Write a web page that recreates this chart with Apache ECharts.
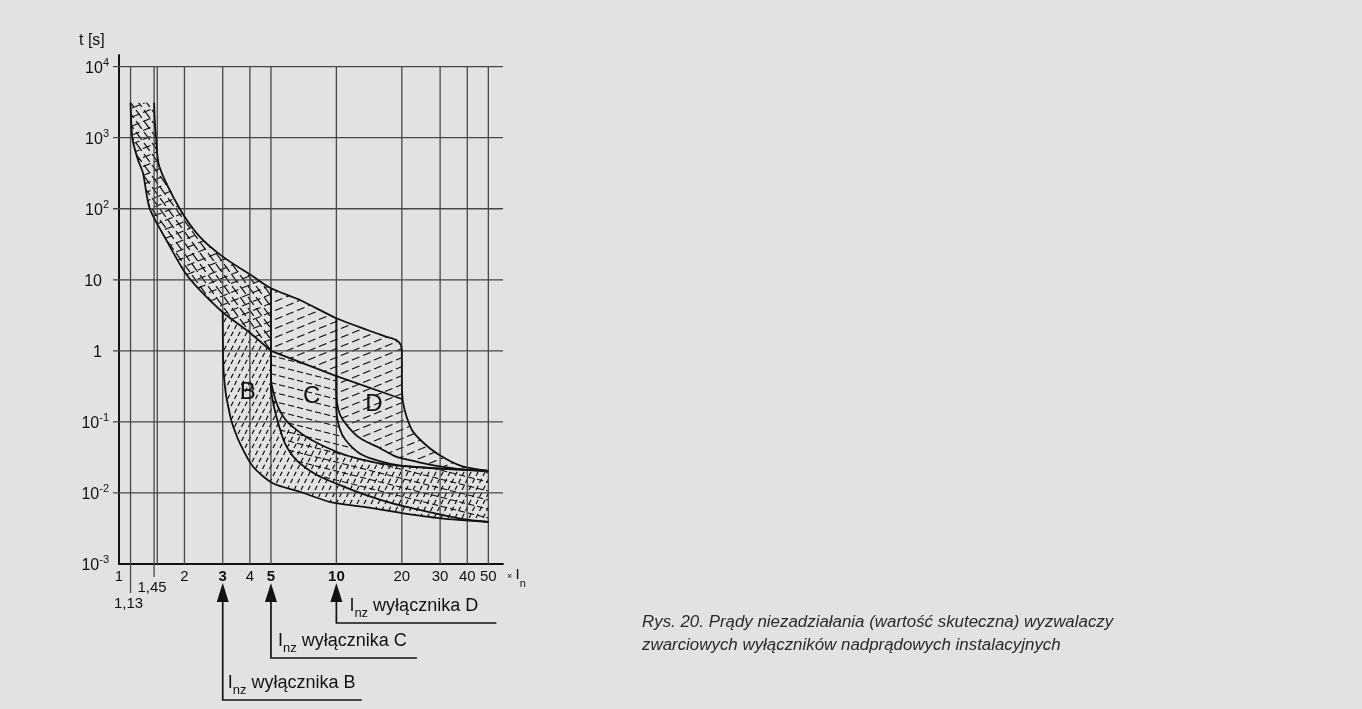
<!DOCTYPE html>
<html>
<head>
<meta charset="utf-8">
<title>Rys. 20</title>
<script src="https://cdn.jsdelivr.net/npm/echarts@6/dist/echarts.min.js"></script>
<style>
  html, body { margin: 0; padding: 0; background: #e1e2e1; }
  #main { width: 1362px; height: 709px; }
</style>
</head>
<body>
<div id="main"></div>
<script>
// ---- axis data ----
var xGridValues = [1.13, 1.45, 1.5, 2, 3, 4, 5, 10, 20, 30, 40, 50];
var yGridValues = [0.01, 0.1, 1, 10, 100, 1000, 10000];
var xTickLabels = [1, 2, 3, 4, 5, 10, 20, 30, 40, 50];
var xBoldLabels = [3, 5, 10];
var xExtraTicks = [1.13, 1.45];
var xExtraLabels = ['1,13', '1,45'];

// ---- thermal band (x = I/In, t in s) ----
var thermalLow = [[1.13, 3100], [1.14, 1500], [1.155, 930], [1.22, 500], [1.29, 316], [1.384, 101],
  [1.65, 36.4], [2.0, 13], [2.35, 7.2], [3.0, 3.5], [4.0, 1.8], [5, 1.0]];
var thermalLowTail = [[5, 1.0], [10, 0.44], [20, 0.21]];
var thermalHigh = [[1.45, 3100], [1.46, 1800], [1.48, 1000], [1.53, 400], [1.9, 101], [2.35, 40.5],
  [3.0, 21.2], [4.14, 11.1], [5, 7.6], [6.8, 5.2], [10, 2.88], [14, 1.95], [17, 1.58], [19, 1.4], [19.8, 1.2], [20, 1.0]];

// ---- instantaneous trip curves ----
var bLeft = [[3, 3.5], [3.02, 0.6], [3.1, 0.25], [3.2, 0.15], [3.3, 0.1], [3.6, 0.05], [4.14, 0.0234],
  [5.1, 0.0137], [6.8, 0.0104], [9.3, 0.0075], [13.2, 0.0064], [20, 0.0052], [30, 0.0044], [50, 0.0039]];
var bRight = [[5, 7.6], [5, 0.4], [5.15, 0.25], [5.4, 0.16], [5.8, 0.11], [6.3, 0.085], [7.5, 0.058],
  [10, 0.038], [12.8, 0.03], [17.6, 0.025], [30, 0.022], [50, 0.0205]];
var cLeft = [[5, 1.0], [5, 0.3], [5.15, 0.17], [5.4, 0.096], [5.8, 0.05], [6.55, 0.029], [8.1, 0.018],
  [10, 0.0135], [13.2, 0.0097], [18.8, 0.0069], [29.8, 0.005], [40, 0.0042], [50, 0.0039]];
var cRight = [[10, 2.88], [10, 0.15], [10.3, 0.085], [11, 0.056], [12.8, 0.036], [15.8, 0.028], [20, 0.024],
  [30, 0.022], [50, 0.0205]];
var dLeft = [[10, 0.44], [10, 0.25], [10.2, 0.15], [10.7, 0.107], [12, 0.07], [13.2, 0.056], [15.8, 0.043],
  [18.8, 0.0324], [24, 0.027], [29.8, 0.0237], [41, 0.021], [50, 0.0205]];
var dRight = [[20, 1.0], [20, 0.4], [20.2, 0.2], [21, 0.12], [22.5, 0.073], [26.8, 0.043], [32, 0.030],
  [38, 0.0237], [50, 0.0205]];

// ---- annotations ----
var arrowValues = [3, 5, 10];
var arrowNames = ['B', 'C', 'D'];
var letterPoints = [[3.91, 0.26], [7.7, 0.23], [14.9, 0.175]];
var captionLines = ['Rys. 20. Prądy niezadziałania (wartość skuteczna) wyzwalaczy',
  'zwarciowych wyłączników nadprądowych instalacyjnych'];

// layout (pixels below the x axis / right of the arrow)
var arrowDrop = [136, 94, 59];
var arrowTail = [139, 146, 160];
var arrowTextGap = [5, 7, 13];
var extraTickLen = [29, 13];

var X_MIN = 1, X_MAX = 58.4, Y_MIN = 0.001, Y_MAX = 14600, Y_TOP = 10000;
var INK = '#121212';
var GRIDC = '#474747';
var FONT = '"Liberation Sans", Arial, sans-serif';

function hatch(w, h, dirs, nDash, fill) {
  var c = document.createElement('canvas');
  c.width = w; c.height = h;
  var g = c.getContext('2d');
  g.strokeStyle = '#0a0a0a';
  g.lineWidth = 1.15;
  var len = Math.sqrt(w * w + h * h);
  var seg = len / nDash;
  g.setLineDash([seg * fill, seg * (1 - fill)]);
  dirs.forEach(function (d) {
    for (var i = -1; i <= 1; i++) {
      for (var j = -1; j <= 1; j++) {
        var ox = i * w, oy = j * h;
        g.beginPath();
        if (d === '/') { g.moveTo(ox, oy + h); g.lineTo(ox + w, oy); }
        else { g.moveTo(ox, oy); g.lineTo(ox + w, oy + h); }
        g.stroke();
      }
    }
  });
  return c;
}

var hatchBand = hatch(22, 9, ['/'], 2, 0.68);
var hatchBandLeft = hatch(8, 11, ['\\'], 1, 0.72);
var hatchB = hatch(7, 14, ['/'], 2, 0.62);
var hatchC = hatch(36, 9, ['\\'], 4, 0.68);
var hatchD = hatch(22, 9, ['/'], 2, 0.68);

function rev(a) { return a.slice().reverse(); }
function below(a, t) { return a.filter(function (p) { return p[1] <= t; }); }

var bandPoly = thermalLow.concat(thermalLowTail.slice(1), rev(thermalHigh));
var bandLeftPoly = thermalLow.concat(rev(thermalHigh.filter(function (p) { return p[0] <= 5; })));
var bPoly = bLeft.concat(rev(below(bRight, 0.99)), [[5, 1.0], [4.0, 1.8]]);
var cPoly = cLeft.concat(rev(below(cRight, 0.43)), [[10, 0.44]]);
var dPoly = dLeft.concat(rev(below(dRight, 0.2)), [[20, 0.21]]);

function polySeries(pts, img) {
  return {
    type: 'custom', silent: true, z: 1,
    data: [[2, 1]],
    renderItem: function (params, api) {
      return {
        type: 'polygon',
        shape: { points: pts.map(function (p) { return api.coord(p); }) },
        style: { fill: { image: img, repeat: 'repeat' }, stroke: null }
      };
    }
  };
}

function curveSeries(pts, smooth) {
  return {
    type: 'line', data: pts, showSymbol: false, symbol: 'none', silent: true, z: 4,
    smooth: smooth, lineStyle: { color: INK, width: 1.8 }
  };
}

var chart = echarts.init(document.getElementById('main'));

var option = {
  backgroundColor: '#e1e2e1',
  animation: false,
  title: [
    { text: 't [s]', left: 74, top: 28, textStyle: { fontFamily: FONT, fontSize: 16, fontWeight: 'normal', color: INK } },
    {
      text: captionLines.join('\n'), left: 637, top: 606,
      textStyle: { fontFamily: FONT, fontSize: 16.9, fontStyle: 'italic', fontWeight: 'normal', color: '#2a2a2a', lineHeight: 23 }
    }
  ],
  grid: { left: 119, right: 859, top: 55, bottom: 145 },
  xAxis: {
    type: 'log', min: X_MIN, max: X_MAX,
    axisLine: { lineStyle: { color: INK, width: 2 } },
    axisTick: { show: false }, axisLabel: { show: false }, splitLine: { show: false }
  },
  yAxis: {
    type: 'log', min: Y_MIN, max: Y_MAX,
    axisLine: { show: true, lineStyle: { color: INK, width: 2 } },
    axisTick: { show: false }, splitLine: { show: false },
    axisLabel: {
      margin: 10,
      formatter: function (v) {
        var e = Math.log10(v);
        var r = Math.round(e);
        if (Math.abs(e - r) > 1e-6 || r > 4) return '';
        if (r === 0) return '{b|1}{sp| }';
        if (r === 1) return '{b|10}{sp| }';
        return '{b|10}{s|' + r + '}';
      },
      rich: {
        b: { fontFamily: FONT, fontSize: 16, color: INK, lineHeight: 19, verticalAlign: 'bottom' },
        s: { fontFamily: FONT, fontSize: 11, color: INK, lineHeight: 19, verticalAlign: 'top' },
        sp: { fontFamily: FONT, fontSize: 11, width: 7, lineHeight: 19 }
      }
    }
  },
  series: [
    polySeries(bandPoly, hatchBand),
    polySeries(bandLeftPoly, hatchBandLeft),
    polySeries(bPoly, hatchB),
    polySeries(cPoly, hatchC),
    polySeries(dPoly, hatchD),
    // vertical grid lines
    {
      type: 'custom', silent: true, z: 2,
      data: xGridValues.map(function (v) { return [v, Y_MIN]; }),
      renderItem: function (params, api) {
        var v = api.value(0);
        var a = api.coord([v, Y_MIN]), b = api.coord([v, Y_TOP]);
        return { type: 'line', shape: { x1: a[0], y1: a[1], x2: b[0], y2: b[1] }, style: { stroke: GRIDC, lineWidth: 1.3 } };
      }
    },
    // horizontal grid lines
    {
      type: 'custom', silent: true, z: 2,
      data: yGridValues.map(function (v) { return [X_MIN, v]; }),
      renderItem: function (params, api) {
        var v = api.value(1);
        var a = api.coord([X_MIN, v]), b = api.coord([X_MAX, v]);
        return { type: 'line', shape: { x1: a[0] - 6, y1: a[1], x2: b[0], y2: b[1] }, style: { stroke: GRIDC, lineWidth: 1.3 } };
      }
    },
    // x tick labels
    {
      type: 'custom', silent: true, z: 3,
      data: xTickLabels.map(function (v) { return [v, Y_MIN]; }),
      renderItem: function (params, api) {
        var v = api.value(0);
        var p = api.coord([v, Y_MIN]);
        var bold = xBoldLabels.indexOf(v) >= 0;
        return {
          type: 'text', x: p[0], y: p[1] + 5,
          style: { text: String(v), fontFamily: FONT, fontSize: 15, fontWeight: bold ? 'bold' : 'normal', fill: INK, align: 'center', verticalAlign: 'top' }
        };
      }
    },
    // long ticks 1,13 and 1,45
    {
      type: 'custom', silent: true, z: 3,
      data: xExtraTicks.map(function (v) { return [v, Y_MIN]; }),
      renderItem: function (params, api) {
        var i = params.dataIndex;
        var p = api.coord([api.value(0), Y_MIN]);
        var len = extraTickLen[i];
        return {
          type: 'group', children: [
            { type: 'line', shape: { x1: p[0], y1: p[1], x2: p[0], y2: p[1] + len }, style: { stroke: GRIDC, lineWidth: 1.3 } },
            { type: 'text', x: p[0] - 2, y: p[1] + len + 3, style: { text: xExtraLabels[i], fontFamily: FONT, fontSize: 15, fill: INK, align: 'center', verticalAlign: 'top' } }
          ]
        };
      }
    },
    // "x In" unit label
    {
      type: 'custom', silent: true, z: 3,
      data: [[X_MAX, Y_MIN]],
      renderItem: function (params, api) {
        var p = api.coord([X_MAX, Y_MIN]);
        return {
          type: 'text', x: p[0] + 4, y: p[1] + 3,
          style: {
            text: '{x|×} {i|I}{n|n}', align: 'left', verticalAlign: 'top',
            rich: {
              x: { fontFamily: FONT, fontSize: 9, fill: INK, lineHeight: 22, verticalAlign: 'top', padding: [5, 0, 0, 0] },
              i: { fontFamily: FONT, fontSize: 15, fill: INK, lineHeight: 22, verticalAlign: 'top' },
              n: { fontFamily: FONT, fontSize: 11, fill: INK, lineHeight: 22, verticalAlign: 'bottom' }
            }
          }
        };
      }
    },
    // arrows with "Inz" notes
    {
      type: 'custom', silent: true, z: 3,
      data: arrowValues.map(function (v) { return [v, Y_MIN]; }),
      renderItem: function (params, api) {
        var i = params.dataIndex;
        var p = api.coord([api.value(0), Y_MIN]);
        var x = p[0], y0 = p[1];
        var drop = arrowDrop[i], tail = arrowTail[i];
        return {
          type: 'group', children: [
            { type: 'polygon', shape: { points: [[x, y0 + 19], [x - 6, y0 + 38], [x + 6, y0 + 38]] }, style: { fill: INK } },
            { type: 'polyline', shape: { points: [[x, y0 + 36], [x, y0 + drop], [x + tail, y0 + drop]] }, style: { stroke: INK, lineWidth: 1.7, fill: null } },
            {
              type: 'text', x: x + arrowTextGap[i], y: y0 + drop - 26,
              style: {
                text: '{i|I}{s|nz}{t| wyłącznika ' + arrowNames[i] + '}', align: 'left', verticalAlign: 'top',
                rich: {
                  i: { fontFamily: FONT, fontSize: 18, fill: INK, lineHeight: 23, verticalAlign: 'top' },
                  s: { fontFamily: FONT, fontSize: 13, fill: INK, lineHeight: 23, verticalAlign: 'bottom' },
                  t: { fontFamily: FONT, fontSize: 18, fill: INK, lineHeight: 23, verticalAlign: 'top' }
                }
              }
            }
          ]
        };
      }
    },
    // region letters
    {
      type: 'custom', silent: true, z: 3,
      data: letterPoints,
      renderItem: function (params, api) {
        var p = api.coord([api.value(0), api.value(1)]);
        return { type: 'text', x: p[0], y: p[1], style: { text: arrowNames[params.dataIndex], fontFamily: FONT, fontSize: 24, fill: INK, align: 'center', verticalAlign: 'middle' } };
      }
    },
    curveSeries(thermalLow, 0.25),
    curveSeries(thermalLowTail, false),
    curveSeries(thermalHigh, 0.25),
    curveSeries(bLeft, 0.25),
    curveSeries(bRight, 0.25),
    curveSeries(cLeft, 0.25),
    curveSeries(cRight, 0.25),
    curveSeries(dLeft, 0.25),
    curveSeries(dRight, 0.25)
  ]
};

chart.setOption(option);
</script>
</body>
</html>
